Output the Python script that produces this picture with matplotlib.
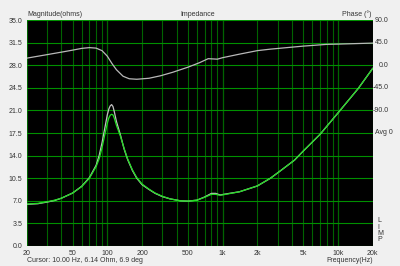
import numpy as np
import matplotlib
matplotlib.use("Agg")
import matplotlib.pyplot as plt
from matplotlib.ticker import FixedLocator, NullFormatter

plt.rcParams["font.family"] = ["Liberation Sans", "DejaVu Sans"]

# impedance magnitude (ohms)
freq_z = [20, 25, 30, 35, 40, 50, 60, 70, 80, 85, 90, 95, 100, 103, 106, 109, 112, 115, 120,
          130, 140, 150, 165, 180, 200, 230, 260, 300, 350, 430, 500, 600, 700, 800,
          870, 950, 1100, 1400, 2000, 2600, 3200, 4200, 5000, 7000, 10000, 15000, 20000]
z_green = [6.5, 6.6, 6.85, 7.1, 7.4, 8.2, 9.2, 10.5, 12.3, 13.5, 15.2, 17.2, 19.0, 19.8, 20.25,
           20.4, 20.3, 19.8, 18.7, 17.0, 15.1, 13.5, 11.8, 10.6, 9.6, 8.8, 8.2, 7.7, 7.3, 7.0,
           6.95, 7.1, 7.55, 8.0, 8.0, 7.85, 8.05, 8.4, 9.3, 10.5, 11.7, 13.3, 14.7, 17.3, 20.6,
           24.4, 27.5]
z_gray = [6.45, 6.55, 6.8, 7.05, 7.4, 8.2, 9.25, 10.6, 12.5, 14.0, 16.0, 18.2, 20.3, 21.2, 21.7,
          21.9, 21.6, 20.8, 19.3, 17.2, 15.0, 13.4, 11.7, 10.5, 9.5, 8.75, 8.15, 7.65, 7.3, 7.0,
          6.95, 7.1, 7.6, 8.15, 8.15, 7.9, 8.1, 8.4, 9.3, 10.5, 11.7, 13.3, 14.7, 17.3, 20.6,
          24.4, 27.5]

# impedance phase (deg)
freq_p = [20, 30, 40, 50, 60, 70, 80, 90, 100, 110, 120, 137, 155, 180, 230, 290, 370, 430,
          500, 630, 750, 900, 1000, 1400, 2000, 2600, 5000, 8000, 10000, 20000]
phase = [14, 21, 26, 30, 33.5, 35, 34, 29, 18, 3, -9, -22, -27, -28, -26, -21, -14, -9,
         -4, 5, 13, 12, 15, 22, 29, 32, 38, 41.5, 42, 44]

xticks = [20, 50, 100, 200, 500, 1000, 2000, 5000, 10000, 20000]
xticklabels = ["20", "50", "100", "200", "500", "1k", "2k", "5k", "10k", "20k"]
yticks = np.arange(0, 35.01, 3.5)
phase_labels = ["90.0", "45.0", "0.0", "-45.0", "-90.0"]

bg = "#f0f0f0"
tc = "#333333"
fig = plt.figure(figsize=(4, 2.66), dpi=100, facecolor=bg)
ax = fig.add_axes([0.0667, 0.0752, 0.865, 0.8496])
ax.set_facecolor("black")
ax.set_xscale("log")
ax.set_xlim(20, 20000)
ax.set_ylim(0, 35)

minor = [m * 10 ** e for e in range(1, 5) for m in range(2, 10) if 20 <= m * 10 ** e <= 20000]
ax.xaxis.set_minor_locator(FixedLocator(minor))
ax.xaxis.set_minor_formatter(NullFormatter())
ax.set_xticks(xticks)
ax.set_xticklabels(xticklabels)
ax.set_yticks(yticks)
ax.set_yticklabels(["%.1f" % v for v in yticks])
ax.grid(which="both", axis="x", color="#006400", lw=0.8)
for f in [100, 1000, 10000]:
    ax.axvline(f, color="#00a000", lw=0.8, zorder=1)
ax.grid(which="major", axis="y", color="#009000", lw=0.8)
ax.tick_params(which="both", length=0, labelsize=5, colors=tc, pad=3)
for s in ax.spines.values():
    s.set_visible(False)

# phase drawn on the left scale: 90 deg at top, 45 deg per grid step
phase_y = [35 - (90 - p) / 45 * 3.5 for p in phase]
ax.plot(freq_p, phase_y, color="#b8b8b8", lw=0.9, zorder=3)
ax.plot(freq_z, z_gray, color="#c0c0c0", lw=0.9, zorder=3)
ax.plot(freq_z, z_green, color="#22dd22", lw=0.9, zorder=4)

fig.text(0.0675, 0.945, "Magnitude(ohms)", fontsize=5, color=tc, ha="left", va="center")
fig.text(0.495, 0.945, "Impedance", fontsize=5, color=tc, ha="center", va="center")
fig.text(0.93, 0.945, "Phase (°)", fontsize=5, color=tc, ha="right", va="center")
for i, lab in enumerate(phase_labels):
    fig.text(0.972, 0.9248 - i * 0.0849, lab, fontsize=5, color=tc, ha="right", va="center")
fig.text(0.937, 0.9248 - 5 * 0.0849, "Avg 0", fontsize=5, color=tc, ha="left", va="center")
for i, ch in enumerate("LIMP"):
    fig.text(0.943, 0.17 - i * 0.0235, ch, fontsize=5, color=tc, ha="left", va="center")
fig.text(0.0675, 0.02, "Cursor: 10.00 Hz, 6.14 Ohm, 6.9 deg", fontsize=5, color=tc,
         ha="left", va="center")
fig.text(0.932, 0.02, "Frequency(Hz)", fontsize=5, color=tc, ha="right", va="center")

fig.savefig("out.png", dpi=100, facecolor=bg)
